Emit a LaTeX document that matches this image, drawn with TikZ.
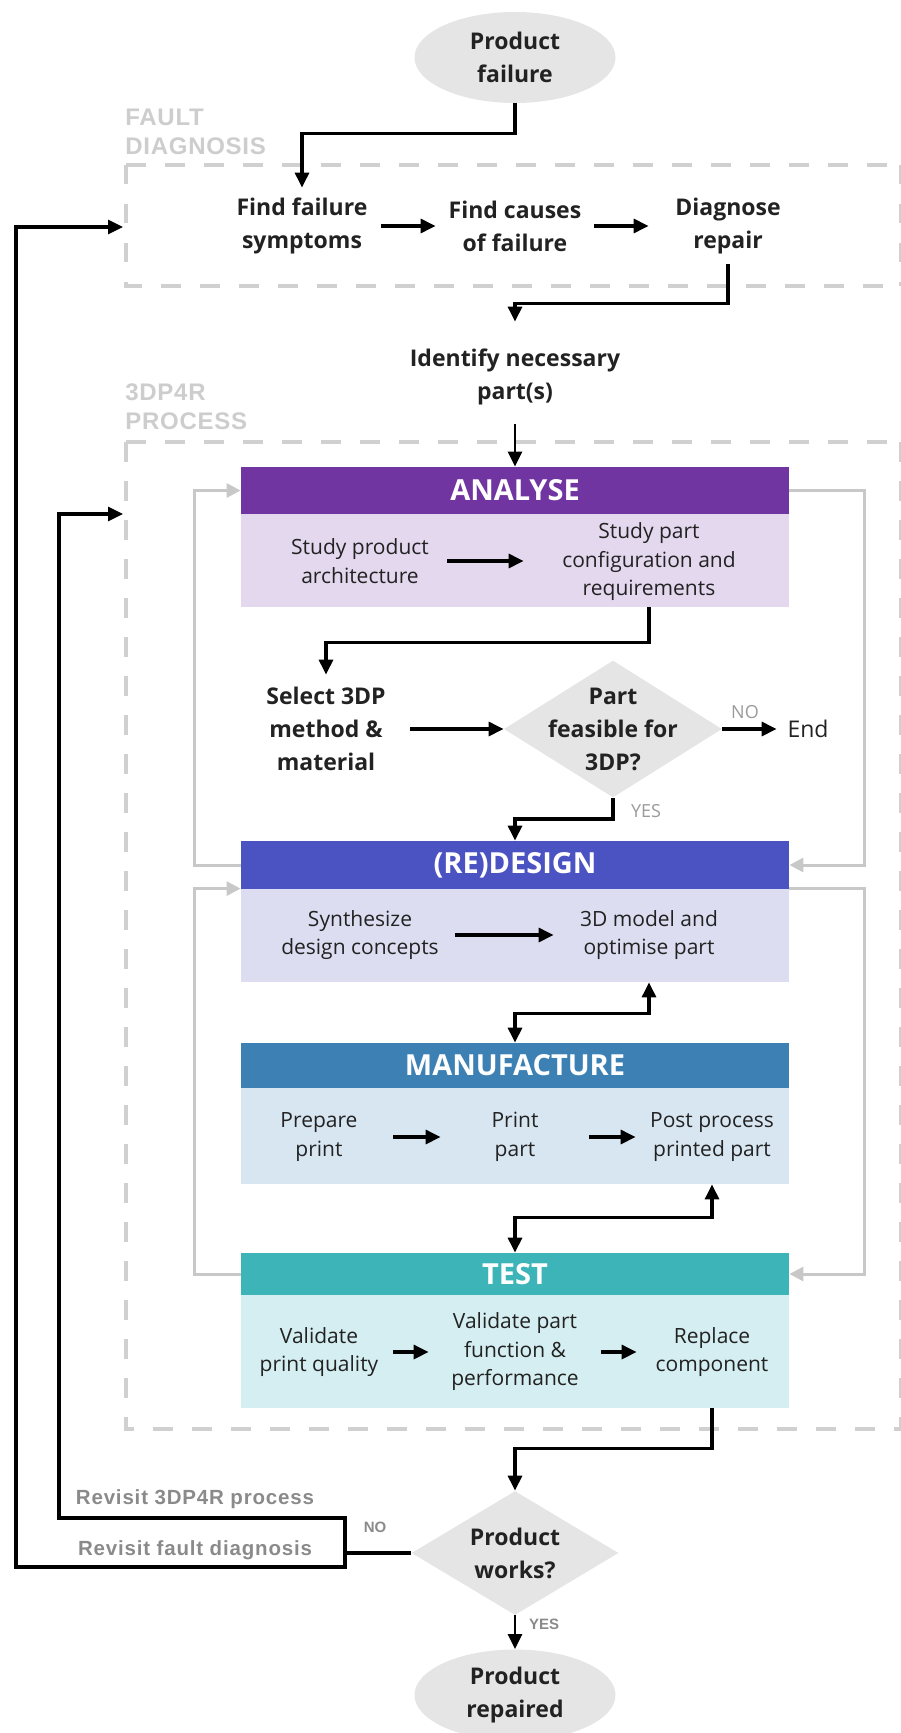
\documentclass[tikz,border=0pt]{standalone}
\usepackage{fontspec}
\setmainfont{Open Sans}
\newfontfamily\arialfont{Liberation Sans}
\newfontfamily\revfont[LetterSpace=4]{Liberation Sans}
\newfontfamily\grpfont[LetterSpace=3]{Liberation Sans}
\usetikzlibrary{arrows.meta,shapes.geometric,calc}
\definecolor{txt}{HTML}{222222}
\definecolor{gfill}{HTML}{E5E5E5}
\definecolor{framec}{HTML}{D0D0D0}
\definecolor{fbc}{HTML}{C8C8C8}
\definecolor{lblc}{HTML}{CDCDCD}
\definecolor{revc}{HTML}{8A8A8A}
\definecolor{ynt}{HTML}{9A9A9A}
\definecolor{anaH}{HTML}{7035A0}
\definecolor{anaB}{HTML}{E4D8EE}
\definecolor{redH}{HTML}{4B53C2}
\definecolor{redB}{HTML}{DCDDF1}
\definecolor{manH}{HTML}{3D80B4}
\definecolor{manB}{HTML}{D8E6F2}
\definecolor{tesH}{HTML}{3CB4B8}
\definecolor{tesB}{HTML}{D5EEF1}
\begin{document}
\begin{tikzpicture}[x=0.5pt,y=-0.5pt,
  bt/.style={align=center,inner sep=0pt,text=txt,font=\bfseries\fontsize{11.5}{16.5}\selectfont},
  rt/.style={align=center,inner sep=0pt,text=txt,font=\fontsize{10.5}{14.25}\selectfont},
  hdr/.style={rectangle,inner sep=0pt,minimum width=274pt,text=white,font=\bfseries\fontsize{14.5}{17}\selectfont},
  bdy/.style={rectangle,inner sep=0pt,minimum width=274pt},
  term/.style={ellipse,fill=gfill,inner sep=0pt,minimum width=100.5pt,minimum height=45.5pt,bt},
  dec/.style={diamond,fill=gfill,inner sep=0pt},
  frame/.style={draw=framec,line width=2.25pt,dash pattern=on 9.75pt off 9.75pt},
  tip/.tip={Triangle[length=7.5pt,width=7pt]},
  flow/.style={draw=black,line width=1.6pt,-tip},
  thinflow/.style={draw=black,line width=1.2pt,-tip},
  twoway/.style={draw=black,line width=1.6pt,tip-tip},
  plain/.style={draw=black,line width=1.6pt},
  fb/.style={draw=fbc,line width=1.5pt,-{Triangle[length=7pt,width=7pt]}},
  yn/.style={text=ynt,inner sep=0pt,font=\fontsize{9}{10}\selectfont},
  ynb/.style={text=revc,inner sep=0pt,font=\arialfont\bfseries\fontsize{7.5}{9}\selectfont},
  grp/.style={text=lblc,inner sep=0pt,anchor=west,align=left,font=\grpfont\bfseries\fontsize{12}{14.5}\selectfont},
  rev/.style={text=revc,inner sep=0pt,font=\revfont\bfseries\fontsize{10.25}{12}\selectfont},
]
\useasboundingbox (0,0) rectangle (900,1733);

% group frames
\draw[frame] (126,165) -- (901,165);
\draw[frame] (126,165) -- (126,286) -- (901,286);
\draw[frame] (901,165) -- (901,286);
\draw[frame] (126,442) -- (901,442);
\draw[frame] (126,442) -- (126,1429) -- (901,1429);
\draw[frame] (901,442) -- (901,1429);
\node[grp] (lfd) at (125,132) {FAULT\\DIAGNOSIS};
\node[grp] (l3d) at (125,407) {3DP4R\\PROCESS};

% fault diagnosis
\node[term] (pf) at (515,57.5) {Product\\failure};
\node[bt,minimum width=79pt,minimum height=38pt] (ffs) at (302,226) {Find failure\\symptoms};
\node[bt,minimum width=79pt,minimum height=38pt] (fcf) at (515,226) {Find causes\\of failure};
\node[bt,minimum width=79pt,minimum height=38pt] (dr) at (728,226) {Diagnose\\repair};
\node[bt,minimum height=47pt] (idn) at (515,377) {Identify necessary\\part(s)};

% stage blocks
\node[hdr,fill=anaH,minimum height=23.5pt] (anah) at (515,490.5) {ANALYSE};
\node[bdy,fill=anaB,minimum height=46.5pt] (anab) at (515,560.5) {};
\node[rt,minimum width=87pt] (spa) at (360,561) {Study product\\architecture};
\node[rt,minimum width=125pt] (spc) at (649,562) {Study part\\configuration and\\requirements};

\node[bt,minimum width=84pt,minimum height=54pt] (sel) at (326,729) {Select 3DP\\method \&\\material};
\node[dec,minimum width=109pt,minimum height=68.5pt,label={[bt]center:{Part\\feasible for\\3DP?}}] (d1) at (613,729) {};
\node[rt,font=\fontsize{11.5}{14}\selectfont,minimum width=31pt] (end) at (808,729) {End};
\node[yn] (no1) at (745,712) {NO};
\node[yn] (yes1) at (646,811) {YES};

\node[hdr,fill=redH,minimum height=24pt] (redh) at (515,865) {(RE)DESIGN};
\node[bdy,fill=redB,minimum height=46.5pt] (redb) at (515,935.5) {};
\node[rt,minimum width=95pt] (syn) at (360,935) {Synthesize\\design concepts};
\node[rt,minimum width=95pt] (mod) at (649,935) {3D model and\\optimise part};

\node[hdr,fill=manH,minimum height=22.5pt] (manh) at (515,1065.5) {MANUFACTURE};
\node[bdy,fill=manB,minimum height=48pt] (manb) at (515,1136) {};
\node[rt,minimum width=74pt] (prep) at (319,1137) {Prepare\\print};
\node[rt,minimum width=74pt] (prt) at (515,1137) {Print\\part};
\node[rt,minimum width=76pt] (post) at (712,1137) {Post process\\printed part};

\node[hdr,fill=tesH,minimum height=21pt] (testh) at (515,1274) {TEST};
\node[bdy,fill=tesB,minimum height=56.5pt] (testb) at (515,1351.5) {};
\node[rt,minimum width=74pt] (vpq) at (319,1352) {Validate\\print quality};
\node[rt,minimum width=86pt] (vpf) at (515,1352) {Validate part\\function \&\\performance};
\node[rt,minimum width=75pt] (rep) at (712,1352) {Replace\\component};

% end
\node[dec,minimum width=103.5pt,minimum height=62pt,label={[bt]center:{Product\\works?}}] (d2) at (515,1553) {};
\node[term] (pr) at (515,1695) {Product\\repaired};
\node[ynb] (no2) at (375,1527) {NO};
\node[ynb] (yes2) at (544,1624) {YES};
\node[rev] (r3d) at (195,1499) {Revisit 3DP4R process};
\node[rev] (rfd) at (195,1550) {Revisit fault diagnosis};

% grey feedback loops
\draw[fb] (redh.west) -- ++(-46,0) |- (anah.west);
\draw[fb] (anah.east) -- ++(75,0) |- (redh.east);
\draw[fb] (testh.west) -- ++(-46,0) |- (redb.north west);
\draw[fb] (redb.north east) -- ++(75,0) |- (testh.east);

% black connectors
\draw[flow] (pf.south) -- ++(0,30) -| (ffs.north);
\draw[flow] (ffs.east) -- (fcf.west);
\draw[flow] (fcf.east) -- (dr.west);
\draw[flow] (dr.south) -- ++(0,39) -| ([yshift=4pt]idn.north);
\draw[thinflow] (idn.south) -- (anah.north);
\draw[flow] (spa.east) -- (spa.east -| spc.west);
\draw[flow] (spc |- anab.south) -- ++(0,35) -| (sel.north);
\draw[flow] (sel.east) -- (d1.west);
\draw[flow] (d1.east) -- (end.west);
\draw[flow] (d1.south) -- ++(0,21) -| (redh.north);
\draw[flow] (syn.east) -- (mod.west);
\draw[twoway] (mod |- redb.south) -- ++(0,31) -| (manh.north);
\draw[flow] (prep.east) -- (prt.west);
\draw[flow] (prt.east) -- (post.west);
\draw[twoway] (post |- manb.south) -- ++(0,33) -| (testh.north);
\draw[flow] (vpq.east) -- (vpf.west);
\draw[flow] (vpf.east) -- (rep.west);
\draw[flow] (rep |- testb.south) -- ++(0,40) -| (d2.north);
\draw[thinflow] (d2.south) -- (pr.north);

\coordinate (jn) at (345,1553);
\coordinate (in3d) at (123,514);
\coordinate (infd) at (123,227);
\draw[plain] (d2.west) -- (jn);
\draw[flow] (jn) -- (345,1518) -- (59,1518) |- (in3d);
\draw[flow] (jn) -- (345,1567) -- (16,1567) |- (infd);
\end{tikzpicture}
\end{document}
